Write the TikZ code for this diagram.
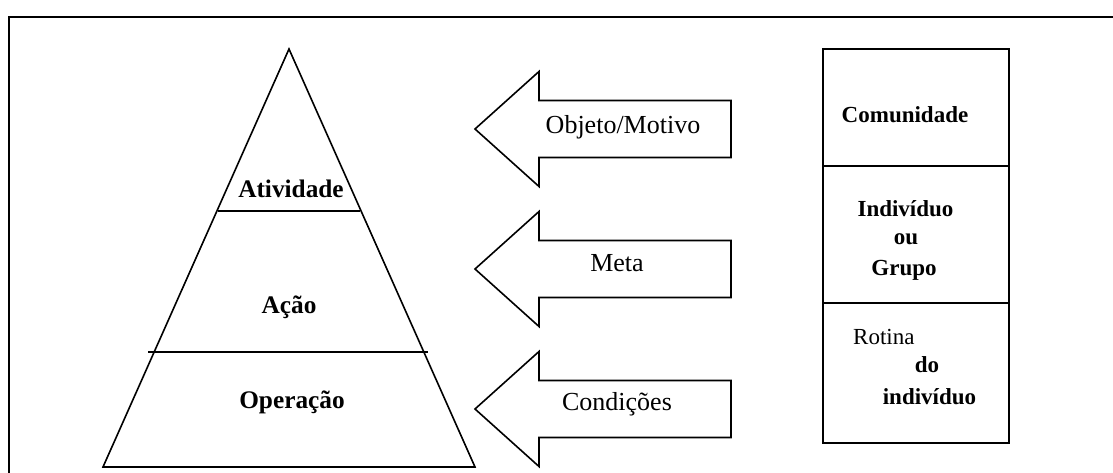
\documentclass[tikz,border=0pt]{standalone}
\usepackage{fontspec}
\setmainfont{Liberation Serif}
\begin{document}
\begin{tikzpicture}[x=1pt,y=-1pt,line join=miter,
  outline/.style={draw=black,line width=1.6pt},
  framed/.style={draw=black,line width=2pt},
  level/.style={font=\fontsize{25.3}{30}\selectfont\bfseries,inner sep=0pt,anchor=base},
  hint/.style={font=\fontsize{26}{30}\selectfont,inner sep=0pt,anchor=base},
  scopelbl/.style={font=\fontsize{23}{28}\selectfont\bfseries,inner sep=0pt,anchor=base},
  scopeplain/.style={font=\fontsize{23}{28}\selectfont,inner sep=0pt,anchor=base west},
  blockarrow/.pic={
    \draw[outline] (0,0) -- (64,-57.5) -- (64,-28.5) -- (256,-28.5)
      -- (256,28.5) -- (64,28.5) -- (64,57.5) -- cycle;}]
\useasboundingbox (0,0) rectangle (1113,473);

% outer frame (runs off the right and bottom edges)
\draw[framed] (1113,17) -- (9,17) -- (9,473);

% pyramid of activity levels
\coordinate (apex) at (289,49);
\coordinate (baseL) at (103,467);
\coordinate (baseR) at (475,467);
\draw[outline] (apex) -- (baseR) -- (baseL) -- cycle;
\coordinate (cutAL) at (218,211);
\coordinate (cutAR) at (360,211);
\coordinate (cutBL) at (148,352);
\coordinate (cutBR) at (428,352);
\draw[outline] (cutAL) -- (cutAR);
\draw[outline] (cutBL) -- (cutBR);
\node[level] (atividade) at (291,197) {Atividade};
\node[level] (acao) at (289,313) {Ação};
\node[level] (operacao) at (292,408) {Operação};

% block arrows pointing at each level
\pic at (475,129) {blockarrow};
\pic at (475,269) {blockarrow};
\pic at (475,409) {blockarrow};
\node[hint] (objeto) at (623,134) {Objeto/Motivo};
\node[hint] (meta) at (617,271) {Meta};
\node[hint] (condicoes) at (617,410) {Condições};

% column of subjects
\draw[framed] (823,49) rectangle (1009,443);
\draw[framed] (823,166) -- (1009,166);
\draw[framed] (823,303) -- (1009,303);
\node[scopelbl] (comunidade) at (905,123) {Comunidade};
\node[scopelbl] (individuo) at (905.5,216) {Indivíduo};
\node[scopelbl] (ou) at (906,244) {ou};
\node[scopelbl] (grupo) at (904,275) {Grupo};
\node[scopeplain] (rotina) at (853,344) {Rotina};
\node[scopelbl] (do) at (927,372) {do};
\node[scopelbl] (individuo2) at (929.5,404) {indivíduo};
\end{tikzpicture}
\end{document}
